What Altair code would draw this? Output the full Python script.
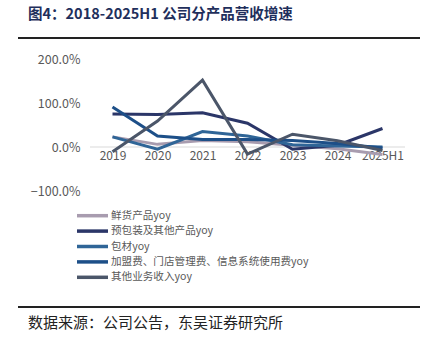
import altair as alt
import pandas as pd

years = ["2019", "2020", "2021", "2022", "2023", "2024", "2025H1"]
series_names = [
    "鲜货产品yoy",
    "预包装及其他产品yoy",
    "包材yoy",
    "加盟费、门店管理费、信息系统使用费yoy",
    "其他业务收入yoy",
]
fresh = [23, 6, 15, 12, 4, -4, -17]
packaged = [75, 74, 78, 54, -5, 4, 42]
packing = [23, -5, 35, 25, 5, 2, 0]
franchise = [91, 25, 17, 17, 15, 8, -2]
other = [-11, 59, 152, -16, 29, 14, -8]
colors = ["#A89CAF", "#2B3668", "#2F6597", "#1D4F88", "#4B5669"]

title_text = "图4：2018-2025H1 公司分产品营收增速"
source_text = "数据来源：公司公告，东吴证券研究所"

rows = []
for k, (name, vals) in enumerate(zip(series_names, [fresh, packaged, packing, franchise, other])):
    for yr, v in zip(years, vals):
        rows.append({"year": yr, "series": name, "value": v, "order": k})
df = pd.DataFrame(rows)

font = "Noto Sans CJK SC"

zero = alt.Chart(pd.DataFrame({"v": [0]})).mark_rule(color="#D9D9D9", strokeWidth=1).encode(
    y=alt.Y("v:Q", scale=alt.Scale(domain=[-100, 200]))
)

lines = alt.Chart(df).mark_line(strokeWidth=3).encode(
    x=alt.X("year:N", sort=years,
            axis=alt.Axis(title=None, domain=False, ticks=False, labelAngle=0, offset=-44,
                          labelColor="#595959", labelFontSize=12, labelFont=font, labelPadding=3)),
    y=alt.Y("value:Q", scale=alt.Scale(domain=[-100, 200], nice=False),
            axis=alt.Axis(title=None, values=[-100, 0, 100, 200], grid=False, domain=False, ticks=False,
                          labelExpr="format(datum.value, '.1f') + '%'", labelColor="#595959",
                          labelFontSize=12.5, labelFont=font, labelPadding=10)),
    color=alt.Color("series:N", scale=alt.Scale(domain=series_names, range=colors), legend=None),
    order="order:Q",
)

layers = [zero, lines]

legend_y = [156.7, 172.1, 187.5, 202.9, 218.3]
for name, col, ly in zip(series_names, colors, legend_y):
    d = pd.DataFrame({"t": [name]})
    layers.append(alt.Chart(d).mark_rule(color=col, strokeWidth=3.5).encode(
        x=alt.value(-13), x2=alt.value(18), y=alt.value(ly)))
    layers.append(alt.Chart(d).mark_text(align="left", baseline="middle", font=font, fontSize=10.6,
                                         color="#595959").encode(
        text="t:N", x=alt.value(21), y=alt.value(ly)))

title = alt.Chart(pd.DataFrame({"t": [title_text]})).mark_text(
    align="left", baseline="middle", font=font, fontSize=14.5, fontWeight="bold", color="#1F2F5C"
).encode(text="t:N", x=alt.value(-62), y=alt.value(-44))

source = alt.Chart(pd.DataFrame({"t": [source_text]})).mark_text(
    align="left", baseline="middle", font=font, fontSize=15, color="#222222"
).encode(text="t:N", x=alt.value(-62), y=alt.value(264))

top_rule = alt.Chart(pd.DataFrame({"a": [0]})).mark_rule(color="#222222", strokeWidth=2).encode(
    x=alt.value(-72), x2=alt.value(330), y=alt.value(-21)
)
bottom_rule = alt.Chart(pd.DataFrame({"a": [0]})).mark_rule(color="#222222", strokeWidth=2).encode(
    x=alt.value(-72), x2=alt.value(330), y=alt.value(248)
)

layers += [title, source, top_rule, bottom_rule]

chart = alt.layer(*layers).properties(
    width=315, height=132,
    autosize=alt.AutoSizeParams(type="none"),
    padding={"left": 90, "top": 59, "right": 25, "bottom": 157},
    background="white",
).configure_view(stroke=None)

chart.save("out.html", embed_options={"renderer": "svg", "actions": False})
